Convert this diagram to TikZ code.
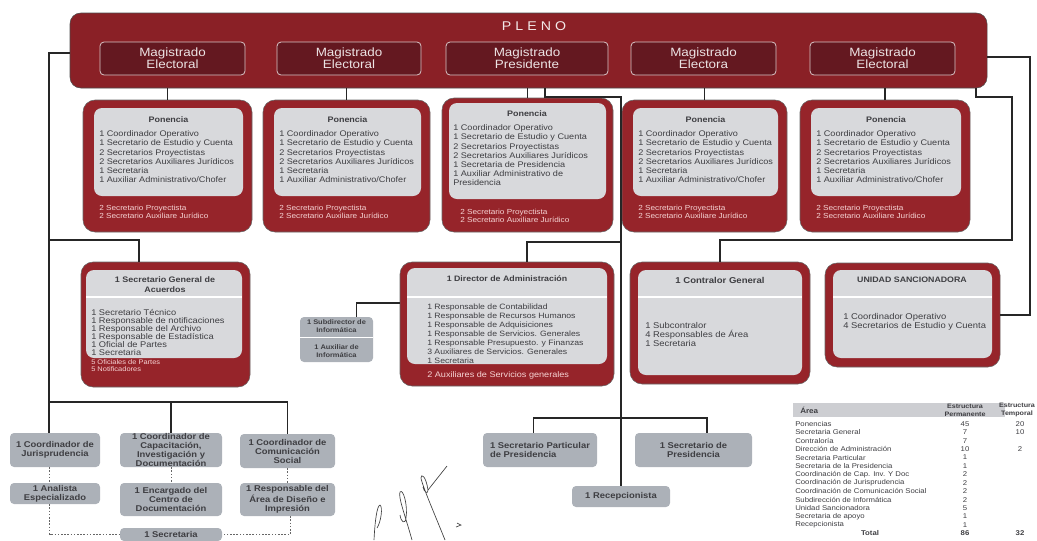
\documentclass[tikz,border=0pt]{standalone}
\usepackage{fontspec}
\setmainfont{Liberation Sans}[FakeStretch=1.12]
\usetikzlibrary{fit}

\definecolor{plenored}{RGB}{138,32,38}
\definecolor{magred}{RGB}{100,24,32}
\definecolor{ponred}{RGB}{150,36,42}
\definecolor{panelgray}{RGB}{216,217,220}
\definecolor{boxgray}{RGB}{172,177,184}
\definecolor{tabgray}{RGB}{205,206,210}
\definecolor{inkgray}{RGB}{62,62,66}
\definecolor{notepink}{RGB}{246,212,212}

\tikzset{
  plenobox/.style={fill=plenored, draw=black!70, rounded corners=8pt, inner sep=0pt},
  plenotxt/.style={inner sep=0pt, text=white!90!plenored, font=\fontsize{9.5}{10}\selectfont},
  magbox/.style={fill=magred, draw=magred!25!white, line width=0.6pt, rounded corners=3pt, inner sep=0pt},
  magtxt/.style={inner sep=0pt, align=center, text=white!88!magred, font=\fontsize{9}{8.8}\selectfont},
  ponbox/.style={fill=ponred, draw=black!60, rounded corners=9pt, inner sep=0pt},
  panel/.style={fill=panelgray, rounded corners=6pt, inner sep=0pt},
  ptitle/.style={inner sep=0pt, align=center, text=inkgray, font=\bfseries\fontsize{6}{7.5}\selectfont},
  plist/.style={inner sep=0pt, anchor=north west, align=left, text=inkgray, font=\fontsize{6.1}{6.9}\selectfont},
  pnote/.style={inner sep=0pt, anchor=north west, align=left, text=notepink, font=\fontsize{5.5}{6.6}\selectfont},
  graybox/.style={fill=boxgray, rounded corners=3pt, inner sep=0pt},
  graytxt/.style={inner sep=0pt, align=center, text=inkgray, font=\bfseries\fontsize{6.3}{6.75}\selectfont},
  subtxt/.style={inner sep=0pt, align=center, text=inkgray, font=\bfseries\fontsize{5}{6}\selectfont},
  sepline/.style={draw=white, line width=1.2pt},
  conn/.style={draw=black!85, line width=1pt},
  dots/.style={draw=black!60, line width=0.6pt, dash pattern=on 1.2pt off 1.2pt},
  tab/.style={inner sep=0pt, text=inkgray, font=\fontsize{5.2}{6.3}\selectfont},
  tabhead/.style={inner sep=0pt, align=center, text=inkgray, font=\bfseries\fontsize{4.8}{6}\selectfont},
  sign/.style={draw=black!75, line width=0.5pt}
}

\begin{document}
\begin{tikzpicture}[x=0.75pt,y=0.75pt,yscale=-1,xscale=1]
\useasboundingbox (0,0) rectangle (1037,540);
\clip (0,0) rectangle (1037,540);

%Shape: Pleno
\node[plenobox, fit={(70,13)(987,88)}] (pleno) {};
% Text Node
\node[plenotxt] (plenot) at (534,26) {P\hspace{3pt}L\hspace{3pt}E\hspace{3pt}N\hspace{3pt}O};

%Shape: Magistrados
\node[magbox, fit={(100,42)(245,75)}, label={[magtxt]center:{Magistrado\\Electoral}}] (mag1) {};
\node[magbox, fit={(277,42)(421,75)}, label={[magtxt]center:{Magistrado\\Electoral}}] (mag2) {};
\node[magbox, fit={(446,42)(608,75)}, label={[magtxt]center:{Magistrado\\Presidente}}] (mag3) {};
\node[magbox, fit={(631,42)(776,75)}, label={[magtxt]center:{Magistrado\\Electora}}] (mag4) {};
\node[magbox, fit={(810,42)(955,75)}, label={[magtxt]center:{Magistrado\\Electoral}}] (mag5) {};

%Shape: Ponencias
\foreach \n/\xa/\xb in {1/83/252, 2/263/430, 4/622/787, 5/800/970}{
  \node[ponbox, fit={(\xa,100)(\xb,232)}] (pon\n) {};
  \node[panel, fit={(\xa+11,108)(\xb-9,196)}] (panel\n) {};
  \node[ptitle] (ptit\n) at ([yshift=9pt]panel\n.north) {Ponencia};
  \node[plist] (plist\n) at (\xa+16,130.5) {1 Coordinador Operativo\\1 Secretario de Estudio y Cuenta\\2 Secretarios Proyectistas\\2 Secretarios Auxiliares Jurídicos\\1 Secretaria\\1 Auxiliar Administrativo/Chofer};
  \node[pnote] (pnote\n) at (\xa+16,204.5) {2 Secretario Proyectista\\2 Secretario Auxiliare Jurídico};
  \draw[conn] (pleno.south -| pon\n.north) -- (pon\n.north);
}
\node[ponbox, fit={(442,98)(613,232)}] (pon3) {};
\node[panel, fit={(449,103)(606,199)}] (panel3) {};
\node[ptitle] (ptit3) at (527,114) {Ponencia};
\node[plist] (plist3) at (453,124.5) {1 Coordinador Operativo\\1 Secretario de Estudio y Cuenta\\2 Secretarios Proyectistas\\2 Secretarios Auxiliares Jurídicos\\1 Secretaria de Presidencia\\1 Auxiliar Administrativo de\\Presidencia};
\node[pnote] (pnote3) at (460,208.5) {2 Secretario Proyectista\\2 Secretario Auxiliare Jurídico};
\draw[conn] (pleno.south -| pon3.north) -- (pon3.north);

%Shape: Secretario General
\node[ponbox, fit={(81,262)(250,387)}] (sg) {};
\node[panel, fit={(86,270)(242,358)}] (sgp) {};
\draw[sepline] (86,297) -- (242,297);
\node[ptitle] (sgt) at (165,285) {1 Secretario General de\\Acuerdos};
\node[plist, font=\fontsize{6.2}{6}\selectfont] (sgl) at (91,309.5) {1 Secretario Técnico\\1 Responsable de notificaciones\\1 Responsable del Archivo\\1 Responsable de Estadística\\1 Oficial de Partes\\1 Secretaria};
\node[pnote, font=\fontsize{5}{5.3}\selectfont] (sgn) at (91,359.5) {5 Oficiales de Partes\\5 Notificadores};

%Shape: Director de Administracion
\node[ponbox, fit={(400,262)(614,386)}] (dir) {};
\node[panel, fit={(407,268)(607,364)}] (dirp) {};
\draw[sepline] (407,297) -- (607,297);
\node[ptitle, font=\bfseries\fontsize{5.9}{7}\selectfont] (dirt) at (507,279) {1 Director de Administración};
\node[plist, font=\fontsize{5.8}{6.75}\selectfont] (dirl) at (427,303.5) {1 Responsable de Contabilidad\\1 Responsable de Recursos Humanos\\1 Responsable de Adquisiciones\\1 Responsable de Servicios. Generales\\1 Responsable  Presupuesto. y Finanzas\\3 Auxiliares de Servicios. Generales\\1 Secretaria};
\node[pnote, font=\fontsize{6.1}{7}\selectfont] (dirn) at (427,371.5) {2 Auxiliares de Servicios generales};

%Shape: Informatica
\node[graybox, fit={(300,317)(373,362)}] (subd) {};
\draw[sepline] (300,337.5) -- (373,337.5);
\node[subtxt] (subdt) at (336.5,326.5) {1 Subdirector de\\Informática};
\node[subtxt] (auxt) at (336.5,351) {1 Auxiliar de\\Informática};

%Shape: Contralor
\node[ponbox, fit={(630,262)(810,384)}] (contr) {};
\node[panel, fit={(638,270)(802,375)}] (contrp) {};
\draw[sepline] (638,297) -- (802,297);
\node[ptitle, font=\bfseries\fontsize{6.4}{7}\selectfont] (contrt) at (720,280) {1 Contralor General};
\node[plist, font=\fontsize{6.3}{6.75}\selectfont] (contrl) at (645,322.5) {1 Subcontralor\\4 Responsables de Área\\1 Secretaria};

%Shape: Unidad Sancionadora
\node[ponbox, fit={(825,263)(1000,367)}] (unid) {};
\node[panel, fit={(833,270)(992,358)}] (unidp) {};
\draw[sepline] (833,297) -- (992,297);
\node[ptitle, font=\bfseries\fontsize{5.9}{7}\selectfont] (unidt) at (912,280) {UNIDAD SANCIONADORA};
\node[plist, font=\fontsize{6.3}{6.75}\selectfont] (unidl) at (843,313.5) {1 Coordinador Operativo\\4 Secretarios de Estudio y Cuenta};

%Shape: Coordinaciones
\node[graybox, fit={(10,433)(100,467)}, label={[graytxt]center:{1 Coordinador de\\Jurisprudencia}}] (jur) {};
\node[graybox, fit={(120,433)(222,467)}, label={[graytxt]center:{1 Coordinador de\\Capacitación,\\Investigación y\\Documentación}}] (cap) {};
\node[graybox, fit={(240,434)(335,468)}, label={[graytxt]center:{1 Coordinador de\\Comunicación\\Social}}] (com) {};
\node[graybox, fit={(10,483)(100,504)}, label={[graytxt]center:{1 Analista\\Especializado}}] (ana) {};
\node[graybox, fit={(120,483)(222,516)}, label={[graytxt]center:{1 Encargado del\\Centro de\\Documentación}}] (enc) {};
\node[graybox, fit={(240,483)(335,516)}, label={[graytxt]center:{1 Responsable del\\Área de Diseño e\\Impresión}}] (res) {};
\node[graybox, fit={(120,528)(222,541)}, label={[graytxt]center:{1 Secretaria}}] (sec) {};

%Shape: Presidencia
\node[graybox, fit={(483,433)(597,467)}, label={[graytxt, align=left]center:{1 Secretario Particular\\de Presidencia}}] (spart) {};
\node[graybox, fit={(635,433)(752,467)}, label={[graytxt]center:{1 Secretario de\\Presidencia}}] (secp) {};
\node[graybox, fit={(572,486)(670,507)}, label={[graytxt]center:{1 Recepcionista}}] (recep) {};

%Straight Lines
\coordinate (jl) at (49,53);
\coordinate (jsg) at (49,240);
\coordinate (jco) at (49,402);
\draw[conn] (pleno.west |- jl) -- (jl) -- (jl |- jur.north);
\draw[conn] (jsg) -| ([xshift=-20pt]sg.north);
\draw[conn] (jco) -| (com.north);
\draw[conn] (cap.north |- jco) -- (cap.north);

\coordinate (jpres) at (545,97);
\coordinate (jdir) at (621,242);
\coordinate (jsp) at (621,418);
\coordinate (jinf) at (357,303);
\draw[conn] (pleno.south -| jpres) -- (jpres) -| (recep.north);
\draw[conn] ([xshift=15pt]dir.north) |- (jdir);
\draw[conn] ([xshift=-5pt]spart.north) |- (jsp) -| ([xshift=10pt]secp.north);
\draw[conn] ([xshift=15pt]subd.north) |- (dir.west |- jinf);

\coordinate (jr0) at (976,97);
\coordinate (jr1) at (1030,57);
\coordinate (jr2) at (1012,97);
\coordinate (jctl) at (1012,240);
\draw[conn] (pleno.east |- jr1) -- (jr1) |- (unid.east);
\draw[conn] (pleno.south -| jr0) |- (jr2) -- (jctl) -| (contr.north);

%Dotted Lines
\draw[dots] ([xshift=-4pt]jur.south) -- ([xshift=-4pt]ana.north);
\draw[dots] ([xshift=-4pt]ana.south) |- (sec.west);
\draw[dots] (cap.south) -- (enc.north);
\draw[dots] (com.south) -- (res.north);
\draw[dots] ([xshift=2pt]res.south) |- (sec.east);

%Shape: Tabla
\node[fill=tabgray, inner sep=0pt, fit={(793,403)(1005,417)}] (thead) {};
\node[tab, anchor=west, font=\bfseries\fontsize{5.4}{6}\selectfont] (tarea) at (800,410) {Área};
\node[tabhead] (tperm) at (965,410) {Estructura\\Permanente};
\node[tabhead] (ttemp) at (1017,410) {Estructura\\Temporal};
\foreach \lab/\p/\t [count=\i] in {Ponencias/45/20, Secretaria General/7/10, Contraloría/7/,
  Dirección de Administración/10/2, Secretaria Particular/1/, Secretaria de la Presidencia/1/,
  Coordinación de  Cap.  Inv. Y Doc/2/, Coordinación de Jurisprudencia/2/,
  Coordinación de Comunicación Social/2/, Subdirección de Informática/2/,
  Unidad Sancionadora/5/, Secretaria de apoyo/1/, Recepcionista/1/}{
  \node[tab, anchor=west] (ta\i) at (795,415.6+8.4*\i) {\lab};
  \node[tab] (tp\i) at (965,415.6+8.4*\i) {\p};
  \node[tab] (tt\i) at (1020,415.6+8.4*\i) {\t};
}
\node[tab, font=\bfseries\fontsize{5.2}{6.3}\selectfont] (ttot) at (870,533) {Total};
\node[tab, font=\bfseries\fontsize{5.2}{6.3}\selectfont] (tptot) at (965,533) {86};
\node[tab, font=\bfseries\fontsize{5.2}{6.3}\selectfont] (tttot) at (1020,533) {32};

%Shape: Firma
\draw[sign] (374,540) .. controls (375,520) and (377,506) .. (380,505) .. controls (383,507) and (381,522) .. (377,528);
\draw[sign] (412,540) .. controls (405,515) and (398,497) .. (400,492) .. controls (403,488) and (408,505) .. (406,518) .. controls (405,525) and (401,522) .. (400,515);
\draw[sign] (445,540) .. controls (435,515) and (422,485) .. (421,478) .. controls (421,473) and (426,476) .. (428,490) .. controls (428,495) and (424,492) .. (423,487);
\draw[sign] (428,490) -- (447,466);
\draw[sign] (456,527) -- (461,525) -- (457,523);
\end{tikzpicture}
\end{document}
